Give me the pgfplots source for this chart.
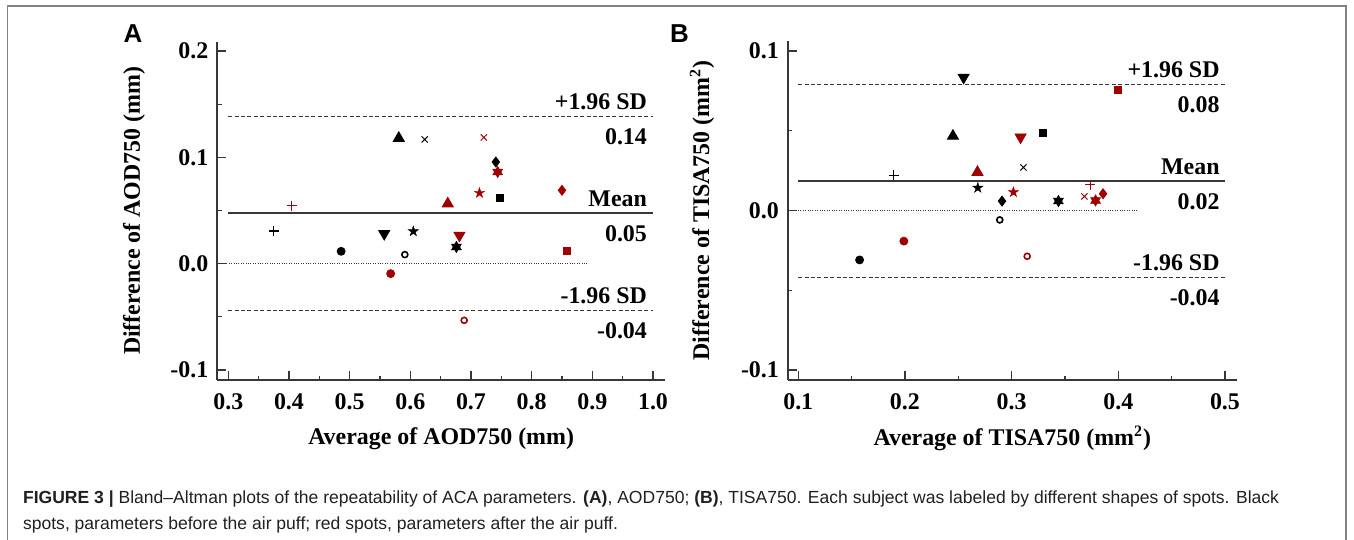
\documentclass[border=0pt]{standalone}
\usepackage{pgfplots}
\pgfplotsset{compat=1.18}
\usepackage{fontspec}
\setmainfont{Liberation Serif}
\newfontfamily\sansf{Liberation Sans}
\definecolor{dred}{RGB}{160,0,0}
\definecolor{axgray}{RGB}{55,55,55}
\definecolor{framegray}{RGB}{130,130,130}
\definecolor{captxt}{RGB}{35,31,32}

\pgfdeclareplotmark{fstar}{%
  \pgfpathmoveto{\pgfpoint{0pt}{\pgfplotmarksize}}%
  \pgfpathlineto{\pgfpoint{-0.2245\pgfplotmarksize}{0.309\pgfplotmarksize}}%
  \pgfpathlineto{\pgfpoint{-0.951\pgfplotmarksize}{0.309\pgfplotmarksize}}%
  \pgfpathlineto{\pgfpoint{-0.3633\pgfplotmarksize}{-0.118\pgfplotmarksize}}%
  \pgfpathlineto{\pgfpoint{-0.588\pgfplotmarksize}{-0.809\pgfplotmarksize}}%
  \pgfpathlineto{\pgfpoint{0pt}{-0.382\pgfplotmarksize}}%
  \pgfpathlineto{\pgfpoint{0.588\pgfplotmarksize}{-0.809\pgfplotmarksize}}%
  \pgfpathlineto{\pgfpoint{0.3633\pgfplotmarksize}{-0.118\pgfplotmarksize}}%
  \pgfpathlineto{\pgfpoint{0.951\pgfplotmarksize}{0.309\pgfplotmarksize}}%
  \pgfpathlineto{\pgfpoint{0.2245\pgfplotmarksize}{0.309\pgfplotmarksize}}%
  \pgfpathclose
  \pgfusepathqfillstroke
}
\pgfdeclareplotmark{hexagram}{%
  \pgfpathmoveto{\pgfpoint{0pt}{\pgfplotmarksize}}%
  \pgfpathlineto{\pgfpoint{-0.866\pgfplotmarksize}{-0.5\pgfplotmarksize}}%
  \pgfpathlineto{\pgfpoint{0.866\pgfplotmarksize}{-0.5\pgfplotmarksize}}%
  \pgfpathclose
  \pgfpathmoveto{\pgfpoint{0pt}{-\pgfplotmarksize}}%
  \pgfpathlineto{\pgfpoint{0.866\pgfplotmarksize}{0.5\pgfplotmarksize}}%
  \pgfpathlineto{\pgfpoint{-0.866\pgfplotmarksize}{0.5\pgfplotmarksize}}%
  \pgfpathclose
  \pgfusepathqfillstroke
}

\tikzset{rtxt/.style={font=\fontsize{12}{14}\selectfont\bfseries, inner sep=0pt}}

\pgfplotsset{
  ba/.style={
    scale only axis, clip=false,
    axis x line=bottom, axis y line=left,
    axis line style={-, axgray, line width=1bp},
    tick align=inside,
    major tick length=4.5bp, minor tick length=2.2bp,
    minor x tick num=1, minor y tick num=1,
    every tick/.style={axgray, line width=0.6bp},
    tick label style={font=\fontsize{12}{14}\selectfont\bfseries},
    xticklabel style={yshift=-3.5bp},
    yticklabel style={xshift=-1bp},
    label style={font=\fontsize{12}{14}\selectfont\bfseries},
  },
  pl/.style={only marks, mark=+, mark size=2.5bp, mark options={line width=0.6bp}},
  ci/.style={only marks, mark=*, mark size=2bp},
  oc/.style={only marks, mark=o, mark size=1.5bp, mark options={line width=0.8bp}},
  tu/.style={only marks, mark=triangle*, mark size=3.2bp},
  td/.style={only marks, mark=triangle*, mark size=3.2bp, mark options={rotate=180}},
  xx/.style={only marks, mark=x, mark size=2.2bp, mark options={line width=0.5bp}},
  st/.style={only marks, mark=fstar, mark size=2.7bp, mark options={line width=0.2bp}},
  hx/.style={only marks, mark=hexagram, mark size=2.9bp, mark options={line width=0.2bp}},
  di/.style={only marks, mark=diamond*, mark size=2.5bp},
  sq/.style={only marks, mark=square*, mark size=1.8bp},
  sdline/.style={axgray, line width=0.55bp, dash pattern=on 2bp off 1.2bp},
  mnline/.style={axgray, line width=0.8bp},
  zline/.style={axgray, line width=0.5bp, dash pattern=on 0.5bp off 0.7bp},
}

\begin{document}
\begin{tikzpicture}
\useasboundingbox (0,0) rectangle (677bp,270bp);

% ---------------- Panel A ----------------
\begin{axis}[ba,
  at={(108.65bp,80bp)}, anchor=south west,
  width=223.85bp, height=169.2bp,
  xmin=0.2819, xmax=1.0198, ymin=-0.1094, ymax=0.2088,
  xtick={0.3,0.4,0.5,0.6,0.7,0.8,0.9,1.0},
  xticklabels={0.3,0.4,0.5,0.6,0.7,0.8,0.9,1.0},
  ytick={-0.1,0,0.1,0.2},
  yticklabels={-0.1,0.0,0.1,0.2},
  xlabel={Average of AOD750 (mm)},
  ylabel={Difference of AOD750 (mm)},
  xlabel style={at={(axis description cs:0.5,-0.1723)}, anchor=center},
  ylabel style={at={(axis description cs:-0.1861,0.5)}, anchor=center},
]
\addplot[sdline] coordinates {(0.3,0.1386) (1.0,0.1386)};
\addplot[mnline] coordinates {(0.3,0.0476) (1.0,0.0476)};
\addplot[sdline] coordinates {(0.3,-0.0439) (1.0,-0.0439)};
\addplot[zline] coordinates {(0.285,0) (0.891,0)};
% black (before air puff)
\addplot[pl, color=black] coordinates {(0.375,0.0307)};
\addplot[ci, color=black] coordinates {(0.486,0.0116)};
\addplot[td, color=black] coordinates {(0.557,0.0282)};
\addplot[oc, color=black] coordinates {(0.591,0.0085)};
\addplot[tu, color=black] coordinates {(0.581,0.1180)};
\addplot[xx, color=black] coordinates {(0.6237,0.1168)};
\addplot[st, color=black] coordinates {(0.605,0.0304)};
\addplot[hx, color=black] coordinates {(0.676,0.0157)};
\addplot[di, color=black] coordinates {(0.741,0.0956)};
\addplot[sq, color=black] coordinates {(0.748,0.0618)};
% red (after air puff)
\addplot[pl, color=dred] coordinates {(0.4047,0.0545)};
\addplot[ci, color=dred] coordinates {(0.5676,-0.0094)};
\addplot[tu, color=dred] coordinates {(0.6618,0.0564)};
\addplot[td, color=dred] coordinates {(0.681,0.0266)};
\addplot[oc, color=dred] coordinates {(0.6888,-0.0533)};
\addplot[st, color=dred] coordinates {(0.714,0.0665)};
\addplot[xx, color=dred] coordinates {(0.7212,0.1187)};
\addplot[hx, color=dred] coordinates {(0.744,0.0862)};
\addplot[di, color=dred] coordinates {(0.850,0.0690)};
\addplot[sq, color=dred] coordinates {(0.8575,0.0119)};
\node[rtxt, anchor=base east, yshift=3.5bp] at (axis cs:0.9906,0.1386) {+1.96 SD};
\node[rtxt, anchor=north east, yshift=-6bp] at (axis cs:0.9906,0.1386) {0.14};
\node[rtxt, anchor=base east, yshift=3.5bp] at (axis cs:0.9906,0.0476) {Mean};
\node[rtxt, anchor=north east, yshift=-6bp] at (axis cs:0.9906,0.0476) {0.05};
\node[rtxt, anchor=base east, yshift=3.5bp] at (axis cs:0.9906,-0.0439) {-1.96 SD};
\node[rtxt, anchor=north east, yshift=-6bp] at (axis cs:0.9906,-0.0439) {-0.04};
\end{axis}

% ---------------- Panel B ----------------
\begin{axis}[ba,
  at={(393.95bp,80bp)}, anchor=south west,
  width=224.4bp, height=169.5bp,
  xmin=0.0903, xmax=0.511, ymin=-0.1063, ymax=0.1063,
  xtick={0.1,0.2,0.3,0.4,0.5},
  xticklabels={0.1,0.2,0.3,0.4,0.5},
  ytick={-0.1,0,0.1},
  yticklabels={-0.1,0.0,0.1},
  xlabel={Average of TISA750 (mm\textsuperscript{2})},
  ylabel={Difference of TISA750 (mm\textsuperscript{2})},
  xlabel style={at={(axis description cs:0.5,-0.1723)}, anchor=center},
  ylabel style={at={(axis description cs:-0.1914,0.5)}, anchor=center},
]
\addplot[sdline] coordinates {(0.1,0.0791) (0.5,0.0791)};
\addplot[mnline] coordinates {(0.1,0.0184) (0.5,0.0184)};
\addplot[sdline] coordinates {(0.1,-0.0420) (0.5,-0.0420)};
\addplot[zline] coordinates {(0.093,0) (0.417,0)};
% black (before air puff)
\addplot[pl, color=black] coordinates {(0.1895,0.0220)};
\addplot[ci, color=black] coordinates {(0.1575,-0.0310)};
\addplot[tu, color=black] coordinates {(0.2450,0.0467)};
\addplot[td, color=black] coordinates {(0.2550,0.0835)};
\addplot[st, color=black] coordinates {(0.2683,0.0142)};
\addplot[di, color=black] coordinates {(0.2910,0.0059)};
\addplot[oc, color=black] coordinates {(0.2889,-0.0059)};
\addplot[xx, color=black] coordinates {(0.3111,0.0270)};
\addplot[sq, color=black] coordinates {(0.3293,0.0485)};
\addplot[hx, color=black] coordinates {(0.3439,0.0059)};
% red (after air puff)
\addplot[ci, color=dred] coordinates {(0.1990,-0.0192)};
\addplot[tu, color=dred] coordinates {(0.2680,0.0240)};
\addplot[st, color=dred] coordinates {(0.3017,0.0115)};
\addplot[td, color=dred] coordinates {(0.3084,0.0460)};
\addplot[oc, color=dred] coordinates {(0.3146,-0.0287)};
\addplot[xx, color=dred] coordinates {(0.3683,0.0088)};
\addplot[pl, color=dred] coordinates {(0.3739,0.0161)};
\addplot[hx, color=dred] coordinates {(0.3787,0.0063)};
\addplot[di, color=dred] coordinates {(0.3857,0.0105)};
\addplot[sq, color=dred] coordinates {(0.3995,0.0758)};
\node[rtxt, anchor=base east, yshift=3.5bp] at (axis cs:0.4953,0.0791) {+1.96 SD};
\node[rtxt, anchor=north east, yshift=-6bp] at (axis cs:0.4953,0.0791) {0.08};
\node[rtxt, anchor=base east, yshift=3.5bp] at (axis cs:0.4953,0.0184) {Mean};
\node[rtxt, anchor=north east, yshift=-6bp] at (axis cs:0.4953,0.0184) {0.02};
\node[rtxt, anchor=base east, yshift=3.5bp] at (axis cs:0.4953,-0.0420) {-1.96 SD};
\node[rtxt, anchor=north east, yshift=-6bp] at (axis cs:0.4953,-0.0420) {-0.04};
\end{axis}

% panel letters
\node[font=\sansf\bfseries\fontsize{13}{15}\selectfont, inner sep=0pt] at (66.5bp,253bp) {A};
\node[font=\sansf\bfseries\fontsize{13}{15}\selectfont, inner sep=0pt] at (339.75bp,253bp) {B};

% caption
\node[anchor=base west, inner sep=0pt, text=captxt, font=\sansf\fontsize{8.8}{10}\selectfont] at (11.35bp,18.5bp)
  {\textbf{FIGURE 3 |} Bland–Altman plots of the repeatability of ACA parameters. \textbf{(A)}, AOD750; \textbf{(B)}, TISA750. Each subject was labeled by different shapes of spots. Black};
\node[anchor=base west, inner sep=0pt, text=captxt, font=\sansf\fontsize{8.8}{10}\selectfont] at (11.35bp,5.5bp)
  {spots, parameters before the air puff; red spots, parameters after the air puff.};

% frame
\draw[framegray, line width=0.7bp] (3.65bp,-2bp) -- (3.65bp,267bp) -- (673bp,267bp) -- (673bp,-2bp);
\end{tikzpicture}
\end{document}
